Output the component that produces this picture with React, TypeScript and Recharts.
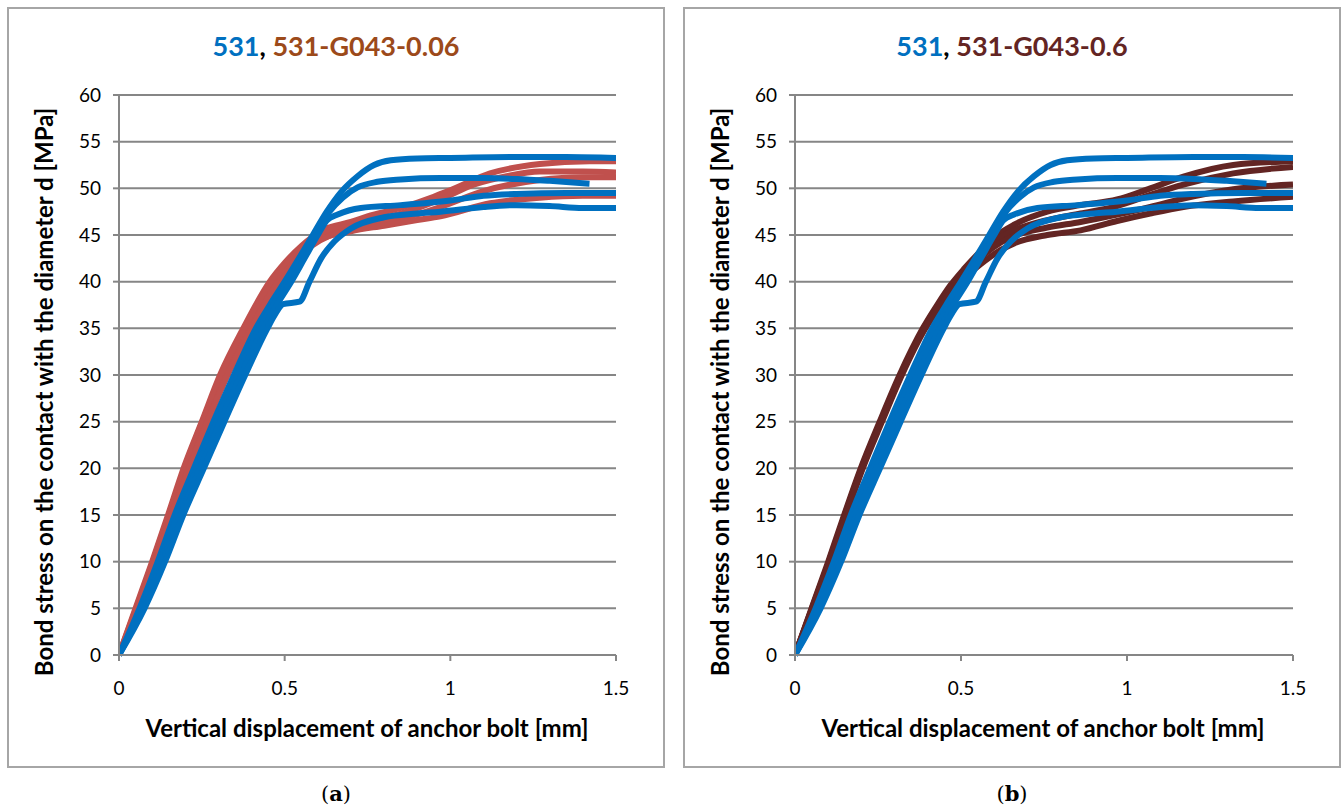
import { LineChart, Line, XAxis, YAxis, CartesianGrid, Label } from "recharts";

const BLUE = "#0070C0";
const RED = "#C0504D";
const DARK_RED = "#632523";
const GRID = "#868686";

const xTicks = [0, 0.5, 1, 1.5];
const yTicks = [0, 5, 10, 15, 20, 25, 30, 35, 40, 45, 50, 55, 60];

// 531 — the same four test curves appear in both panels
const blue1 = [[0, 0], [0.062, 5], [0.117, 10], [0.168, 15], [0.226, 20], [0.285, 25], [0.347, 30], [0.413, 35], [0.455, 37.5], [0.5, 40], [0.543, 42.5], [0.585, 45], [0.627, 47.5], [0.67, 49.6], [0.72, 51.3], [0.77, 52.5], [0.82, 53.0], [0.9, 53.2], [1.0, 53.25], [1.2, 53.35], [1.35, 53.35], [1.5, 53.25]];
const blue2 = [[0, 0], [0.067, 5], [0.125, 10], [0.177, 15], [0.235, 20], [0.295, 25], [0.357, 30], [0.424, 35], [0.465, 37.5], [0.51, 40], [0.55, 42.5], [0.592, 45], [0.633, 47.4], [0.675, 49.0], [0.72, 50.1], [0.78, 50.7], [0.85, 50.95], [0.97, 51.1], [1.1, 51.1], [1.2, 51.0], [1.3, 50.8], [1.42, 50.5]];
const blue3 = [[0, 0], [0.072, 5], [0.132, 10], [0.186, 15], [0.245, 20], [0.306, 25], [0.368, 30], [0.436, 35], [0.476, 37.5], [0.52, 40], [0.56, 42.5], [0.6, 45], [0.628, 46.6], [0.66, 47.2], [0.73, 47.9], [0.85, 48.2], [1.0, 48.7], [1.1, 49.2], [1.2, 49.4], [1.35, 49.5], [1.5, 49.5]];
const blue4 = [[0, 0], [0.077, 5], [0.139, 10], [0.194, 15], [0.256, 20], [0.318, 25], [0.381, 30], [0.448, 35], [0.473, 36.6], [0.495, 37.6], [0.545, 37.85], [0.575, 40], [0.61, 42.5], [0.65, 44.3], [0.7, 45.7], [0.8, 46.9], [0.9, 47.3], [0.97, 47.5], [1.1, 48.0], [1.2, 48.2], [1.3, 48.1], [1.4, 47.9], [1.5, 47.9]];

// 531-G043-0.06
const red1 = [[0, 0], [0.05, 5], [0.1, 10], [0.148, 15], [0.195, 20], [0.25, 25], [0.305, 30], [0.375, 35], [0.455, 40], [0.5, 42], [0.55, 43.8], [0.62, 45.6], [0.7, 46.4], [0.75, 47.0], [0.85, 47.9], [0.95, 49.1], [1.0, 49.8], [1.12, 51.6], [1.27, 52.6], [1.42, 52.9], [1.5, 52.9]];
const red2 = [[0, 0], [0.052, 5], [0.102, 10], [0.15, 15], [0.198, 20], [0.252, 25], [0.31, 30], [0.38, 35], [0.462, 40], [0.51, 42], [0.56, 43.9], [0.62, 45.3], [0.7, 45.9], [0.75, 46.4], [0.85, 47.3], [0.97, 48.8], [1.07, 50.4], [1.17, 51.3], [1.27, 51.8], [1.4, 51.8], [1.5, 51.7]];
const red3 = [[0, 0], [0.055, 5], [0.106, 10], [0.157, 15], [0.21, 20], [0.266, 25], [0.325, 30], [0.397, 35], [0.48, 40], [0.53, 42.2], [0.58, 43.8], [0.64, 45.0], [0.7, 45.6], [0.8, 46.4], [0.9, 47.2], [0.97, 48.0], [1.1, 49.7], [1.27, 50.9], [1.4, 51.2], [1.5, 51.2]];
const red4 = [[0, 0], [0.056, 5], [0.108, 10], [0.16, 15], [0.212, 20], [0.268, 25], [0.328, 30], [0.4, 35], [0.483, 40], [0.5, 40.6], [0.55, 42.8], [0.6, 44.4], [0.7, 45.4], [0.8, 46.0], [0.9, 46.6], [0.97, 47.0], [1.12, 48.4], [1.27, 49.0], [1.4, 49.2], [1.5, 49.2]];

// 531-G043-0.6
const dark1 = [[0, 0], [0.05, 5], [0.1, 10], [0.148, 15], [0.198, 20], [0.255, 25], [0.315, 30], [0.385, 35], [0.43, 37.6], [0.468, 39.6], [0.51, 41.4], [0.56, 43.3], [0.61, 45.0], [0.66, 46.1], [0.76, 47.5], [0.86, 48.2], [0.97, 48.8], [1.07, 50.0], [1.17, 51.25], [1.32, 52.5], [1.5, 52.9]];
const dark2 = [[0, 0], [0.051, 5], [0.102, 10], [0.15, 15], [0.2, 20], [0.258, 25], [0.318, 30], [0.388, 35], [0.433, 37.6], [0.472, 39.5], [0.52, 41.6], [0.57, 43.4], [0.62, 44.8], [0.66, 45.5], [0.76, 46.6], [0.86, 47.3], [0.97, 48.1], [1.07, 49.3], [1.17, 50.4], [1.32, 51.6], [1.5, 52.3]];
const dark3 = [[0, 0], [0.052, 5], [0.103, 10], [0.152, 15], [0.202, 20], [0.26, 25], [0.32, 30], [0.39, 35], [0.435, 37.5], [0.475, 39.4], [0.515, 41.0], [0.56, 42.6], [0.62, 44.2], [0.66, 44.9], [0.76, 45.8], [0.86, 46.4], [0.97, 47.2], [1.07, 48.0], [1.17, 48.9], [1.32, 49.9], [1.5, 50.4]];
const dark4 = [[0, 0], [0.053, 5], [0.104, 10], [0.154, 15], [0.204, 20], [0.262, 25], [0.322, 30], [0.393, 35], [0.438, 37.4], [0.478, 39.2], [0.52, 40.7], [0.56, 41.9], [0.62, 43.4], [0.66, 44.1], [0.76, 45.0], [0.86, 45.5], [0.97, 46.5], [1.07, 47.3], [1.17, 48.0], [1.32, 48.6], [1.5, 49.1]];

const toData = (pts: number[][]) => pts.map(([x, y]) => ({ x, y }));

const blueCurves = [blue1, blue2, blue3, blue4];

const tickStyle = { fontFamily: "Lato, 'Open Sans', sans-serif", fontSize: 19, fill: "#000" };
const axisTitleStyle = { fontFamily: "Lato, sans-serif", fontWeight: 700, fontSize: 24, fill: "#000" };

interface PanelProps {
  left: number;
  rightMargin: number;
  otherName: string;
  otherColor: string;
  titleColor: string;
  curves: number[][][];
  caption: string;
}

function Panel({ left, rightMargin, otherName, otherColor, titleColor, curves, caption }: PanelProps) {
  return (
    <>
      <div
        style={{
          position: "absolute",
          left,
          top: 7,
          width: 658,
          height: 761,
          border: "2px solid #a6a6a6",
          boxSizing: "border-box",
          background: "#fff",
        }}
      >
        <div
          style={{
            position: "absolute",
            top: 22,
            left: 0,
            width: "100%",
            textAlign: "center",
            fontFamily: "Lato, sans-serif",
            fontWeight: 700,
            fontSize: 27,
            lineHeight: "30px",
          }}
        >
          <span style={{ color: BLUE }}>531</span>
          <span style={{ color: "#000" }}>, </span>
          <span style={{ color: titleColor }}>{otherName}</span>
        </div>
        <LineChart
          width={654}
          height={757}
          margin={{ top: 86, right: rightMargin, bottom: 31, left: 0 }}
          style={{ position: "absolute", left: 0, top: 0 }}
        >
          <CartesianGrid vertical={false} stroke={GRID} strokeWidth={2} />
          <XAxis
            type="number"
            dataKey="x"
            domain={[0, 1.5]}
            ticks={xTicks}
            tickFormatter={(v: number) => String(v)}
            allowDataOverflow
            height={80}
            stroke={GRID}
            strokeWidth={2}
            tickSize={6}
            tickMargin={21}
            tick={tickStyle}
          >
            <Label
              content={() => (
                <text x={358} y={728} textAnchor="middle" style={axisTitleStyle}>
                  Vertical displacement of anchor bolt [mm]
                </text>
              )}
            />
          </XAxis>
          <YAxis
            type="number"
            domain={[0, 60]}
            ticks={yTicks}
            width={110}
            stroke={GRID}
            strokeWidth={2}
            tickSize={6}
            tickMargin={12}
            tick={tickStyle}
          >
            <Label
              content={() => (
                <text
                  x={44}
                  y={383}
                  transform="rotate(-90 44 383)"
                  textAnchor="middle"
                  style={axisTitleStyle}
                >
                  Bond stress on the contact with the diameter d [MPa]
                </text>
              )}
            />
          </YAxis>
          {curves.map((c, i) => (
            <Line
              key={`o${i}`}
              data={toData(c)}
              dataKey="y"
              type="monotone"
              stroke={otherColor}
              strokeWidth={6}
              dot={false}
              activeDot={false}
              isAnimationActive={false}
            />
          ))}
          {blueCurves.map((c, i) => (
            <Line
              key={`b${i}`}
              data={toData(c)}
              dataKey="y"
              type="monotone"
              stroke={BLUE}
              strokeWidth={6}
              dot={false}
              activeDot={false}
              isAnimationActive={false}
            />
          ))}
        </LineChart>
      </div>
      <div
        style={{
          position: "absolute",
          left,
          top: 781,
          width: 658,
          textAlign: "center",
          fontFamily: "'DejaVu Serif', 'Liberation Serif', serif",
          fontSize: 21,
          lineHeight: "26px",
        }}
      >
        (<b>{caption}</b>)
      </div>
    </>
  );
}

export default function App() {
  return (
    <div style={{ position: "absolute", left: 0, top: 0, width: 1343, height: 805, background: "#fff" }}>
      <Panel
        left={7}
        rightMargin={47}
        otherName="531-G043-0.06"
        otherColor={RED}
        titleColor="#9C4A1A"
        curves={[red1, red2, red3, red4]}
        caption="a"
      />
      <Panel
        left={683}
        rightMargin={46}
        otherName="531-G043-0.6"
        otherColor={DARK_RED}
        titleColor={DARK_RED}
        curves={[dark1, dark2, dark3, dark4]}
        caption="b"
      />
    </div>
  );
}
